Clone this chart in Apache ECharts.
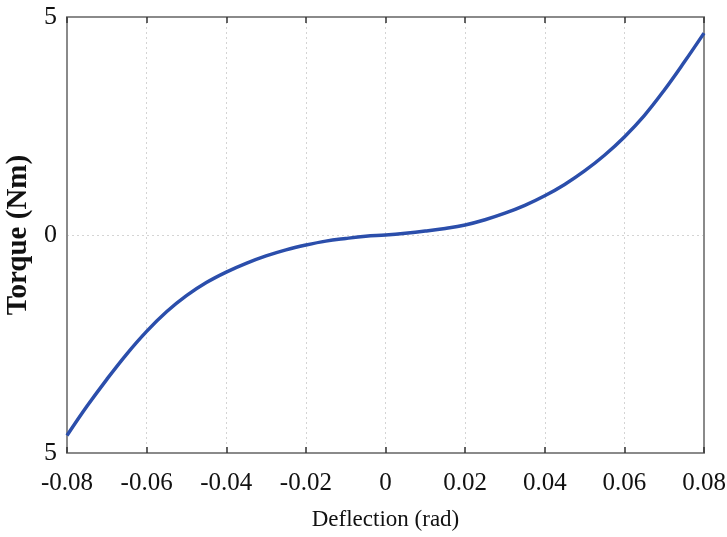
<!DOCTYPE html>
<html>
<head>
<meta charset="utf-8">
<script src="https://cdn.jsdelivr.net/npm/echarts@6/dist/echarts.min.js"></script>
<style>
  html, body { margin: 0; padding: 0; background: #fff; }
  #main { width: 727px; height: 537px; }
</style>
</head>
<body>
<div id="main"></div>
<script>
// deflection (rad) and torque (Nm)
var deflection = [-0.080, -0.075, -0.070, -0.065, -0.060, -0.055, -0.050, -0.045, -0.040,
  -0.035, -0.030, -0.025, -0.020, -0.015, -0.010, -0.005, 0.000, 0.005, 0.010, 0.015,
  0.020, 0.025, 0.030, 0.035, 0.040, 0.045, 0.050, 0.055, 0.060, 0.065, 0.070, 0.075, 0.080];
var torque = [-4.60, -3.93, -3.31, -2.73, -2.21, -1.76, -1.39, -1.09, -0.85,
  -0.65, -0.48, -0.34, -0.23, -0.14, -0.08, -0.03, 0.00, 0.04, 0.09, 0.15,
  0.23, 0.35, 0.50, 0.68, 0.90, 1.16, 1.47, 1.83, 2.25, 2.74, 3.32, 3.96, 4.63];

var xTicks = { min: -0.08, max: 0.08, interval: 0.02 };
var yTicks = { min: -5, max: 5, interval: 5 };

var points = deflection.map(function (d, i) { return [d, torque[i]]; });

var chart = echarts.init(document.getElementById('main'));
var serif = 'Liberation Serif';
var frame = { show: true, onZero: false, lineStyle: { color: '#8a8a8a', width: 2 } };
var ticks = { show: true, inside: true, length: 6, lineStyle: { color: '#333', width: 1.5 } };
var grid = { show: true, lineStyle: { color: '#d4d4d4', type: [2, 3], width: 1 } };

chart.setOption({
  animation: false,
  grid: { left: 67, right: 23, top: 17, bottom: 84, outerBoundsMode: 'none', containLabel: false },
  xAxis: [{
    type: 'value',
    min: xTicks.min, max: xTicks.max, interval: xTicks.interval,
    name: 'Deflection (rad)',
    nameLocation: 'middle',
    nameGap: 55,
    nameTextStyle: { fontFamily: serif, fontSize: 23, color: '#111' },
    axisLine: frame,
    axisTick: ticks,
    axisLabel: {
      fontFamily: serif, fontSize: 25, color: '#111', margin: 18,
      formatter: function (v) { return Math.abs(v) < 1e-9 ? '0' : v.toFixed(2); }
    },
    splitLine: grid
  }, {
    type: 'value', position: 'top',
    min: xTicks.min, max: xTicks.max, interval: xTicks.interval,
    axisLine: frame,
    axisTick: ticks,
    axisLabel: { show: false },
    splitLine: { show: false }
  }],
  yAxis: [{
    type: 'value',
    min: yTicks.min, max: yTicks.max, interval: yTicks.interval,
    name: 'Torque (Nm)',
    nameLocation: 'middle',
    nameGap: 30,
    nameTextStyle: { fontFamily: serif, fontSize: 29, fontWeight: 'bold', color: '#111' },
    axisLine: frame,
    axisTick: { show: false },
    axisLabel: {
      fontFamily: serif, fontSize: 26, color: '#111', margin: 10,
      formatter: function (v) { return String(Math.abs(v)); }
    },
    splitLine: grid
  }, {
    type: 'value', position: 'right',
    min: yTicks.min, max: yTicks.max, interval: yTicks.interval,
    axisLine: frame,
    axisTick: { show: false },
    axisLabel: { show: false },
    splitLine: { show: false }
  }],
  series: [{
    type: 'line',
    data: points,
    smooth: 0.4,
    showSymbol: false,
    lineStyle: { color: '#2b4eab', width: 3.5 }
  }]
});
</script>
</body>
</html>
